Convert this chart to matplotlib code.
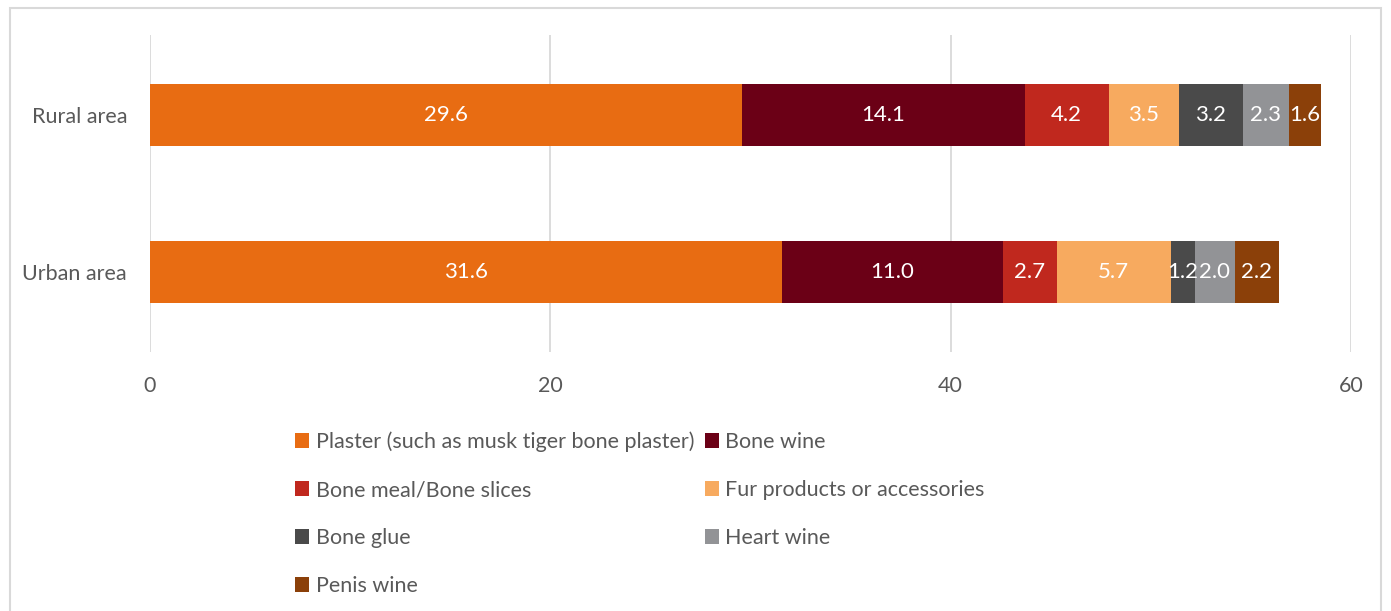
import matplotlib.pyplot as plt
from matplotlib.patches import Rectangle

# datos
areas = ['Urban area', 'Rural area']
series = ['Plaster (such as musk tiger bone plaster)', 'Bone wine', 'Bone meal/Bone slices',
          'Fur products or accessories', 'Bone glue', 'Heart wine', 'Penis wine']
urban = [31.6, 11.0, 2.7, 5.7, 1.2, 2.0, 2.2]
rural = [29.6, 14.1, 4.2, 3.5, 3.2, 2.3, 1.6]
colors = ['#E86C12', '#6B0016', '#C0281E', '#F7AA5F', '#4A4A4A', '#929396', '#8B4009']

plt.rcParams['font.family'] = ['Lato', 'DejaVu Sans']
gray = '#595959'

fig = plt.figure(figsize=(13.91, 6.11), dpi=100)
ax = fig.add_axes([0.1078, 0.4239, 0.8634, 0.5188])

values = list(zip(urban, rural))
left = [0.0, 0.0]
handles = []
for i, name in enumerate(series):
    v = [values[i][0], values[i][1]]
    bars = ax.barh([0, 1], v, left=left, height=0.4, color=colors[i], label=name, zorder=3)
    handles.append(bars)
    for j in range(2):
        ax.text(left[j] + v[j] / 2, j, f'{v[j]:.1f}', ha='center', va='center',
                color='white', fontsize=16, zorder=4)
    left = [left[0] + v[0], left[1] + v[1]]

ax.set_xlim(0, 60)
ax.set_ylim(-0.51, 1.51)
ax.set_xticks([0, 20, 40, 60])
ax.set_yticks([0, 1])
ax.set_yticklabels(areas)
ax.tick_params(length=0, labelsize=15.5, colors=gray)
ax.tick_params(axis='x', pad=17)
ax.tick_params(axis='y', pad=16.5)
ax.grid(axis='x', color='#d9d9d9', linewidth=1.3, zorder=0)
for s in ax.spines.values():
    s.set_visible(False)

# orden del legend: columnas de matplotlib
order = [0, 2, 4, 6, 1, 3, 5]
leg = fig.legend([handles[k] for k in order], [series[k] for k in order], ncol=2,
                 loc='upper left', bbox_to_anchor=(0.206, 0.308), frameon=False,
                 fontsize=15.5, handlelength=0.65, handleheight=0.65, handletextpad=0.3,
                 labelspacing=1.3, columnspacing=0.5, borderaxespad=0)
for t in leg.get_texts():
    t.set_color(gray)

fig.patches.append(Rectangle((0.007, -0.05), 0.986, 1.037, transform=fig.transFigure,
                             fill=False, edgecolor='#d9d9d9', linewidth=1.5))

plt.savefig('out.png', dpi=100)
